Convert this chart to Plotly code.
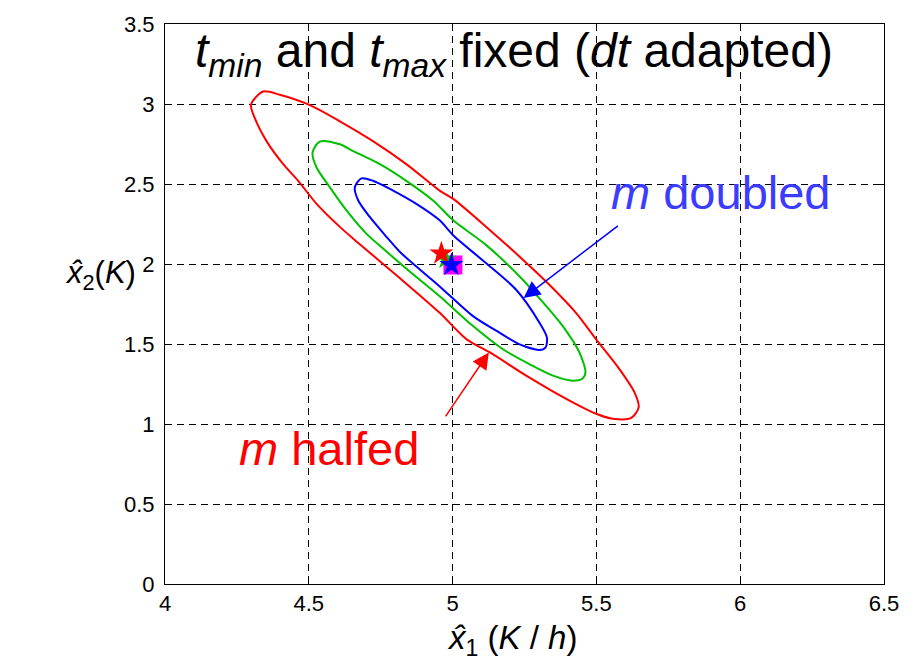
import plotly.graph_objects as go

# ---- data ----
red_x = [4.341, 4.399, 4.500, 4.608, 4.723, 4.839, 4.955, 5.002, 5.117, 5.233, 5.325, 5.429, 5.499,
         5.580, 5.632, 5.647, 5.621, 5.557, 5.499, 5.395, 5.256, 5.130, 5.049, 4.955, 4.813,
         4.671, 4.608, 4.527, 4.463, 4.411, 4.353, 4.312, 4.299, 4.341]
red_y = [3.078, 3.058, 2.996, 2.892, 2.768, 2.624, 2.459, 2.407, 2.232, 2.046, 1.891, 1.695, 1.529,
         1.343, 1.199, 1.106, 1.038, 1.033, 1.064, 1.157, 1.302, 1.447, 1.529, 1.695, 1.917,
         2.133, 2.232, 2.376, 2.520, 2.624, 2.768, 2.913, 2.996, 3.078]

green_x = [4.538, 4.608, 4.654, 4.747, 4.839, 4.932, 5.002, 5.117, 5.233, 5.291, 5.383, 5.441,
           5.462, 5.453, 5.418, 5.349, 5.267, 5.175, 5.071, 4.955, 4.854, 4.758, 4.700, 4.631,
           4.573, 4.527, 4.513, 4.538]
green_y = [2.765, 2.748, 2.706, 2.624, 2.520, 2.397, 2.273, 2.118, 1.922, 1.808, 1.612, 1.447,
           1.323, 1.286, 1.271, 1.302, 1.374, 1.467, 1.612, 1.798, 1.948, 2.097, 2.190, 2.335,
           2.480, 2.603, 2.696, 2.765]

blue_x = [4.683, 4.723, 4.793, 4.874, 4.955, 5.002, 5.117, 5.221, 5.302, 5.328, 5.323, 5.302,
          5.233, 5.163, 5.071, 4.955, 4.885, 4.816, 4.770, 4.712, 4.672, 4.660, 4.683]
blue_y = [2.535, 2.520, 2.459, 2.376, 2.273, 2.180, 2.004, 1.839, 1.633, 1.540, 1.478, 1.463,
          1.498, 1.571, 1.674, 1.860, 1.967, 2.077, 2.170, 2.294, 2.397, 2.480, 2.535]

# estimated points (markers)
square_pt = [5.001, 1.994]
green_star_pt = [4.976, 2.030]
red_star_pt = [4.961, 2.066]
blue_star_pt = [4.996, 1.994]

x_ticks = [4, 4.5, 5, 5.5, 6, 6.5]
x_tick_text = ["4", "4.5", "5", "5.5", "6", "6.5"]
y_ticks = [0, 0.5, 1, 1.5, 2, 2.5, 3, 3.5]
y_tick_text = ["0", "0.5", "1", "1.5", "2", "2.5", "3", "3.5"]

# arrows: (tail, head)
blue_arrow = [[5.580, 2.246], [5.247, 1.788]]
red_arrow = [[4.972, 1.038], [5.126, 1.447]]

FONT = "Liberation Sans, Arial, sans-serif"
RED = "#ff0000"
GREEN = "#00c000"
BLUE = "#0000ff"

fig = go.Figure()
for xs, ys, c in [(red_x, red_y, RED), (green_x, green_y, GREEN), (blue_x, blue_y, BLUE)]:
    fig.add_trace(go.Scatter(x=xs, y=ys, mode="lines", line=dict(color=c, width=2, shape="spline", smoothing=0.8),
                             hoverinfo="skip", showlegend=False))

fig.add_trace(go.Scatter(x=[square_pt[0]], y=[square_pt[1]], mode="markers",
                         marker=dict(symbol="square", size=19, color="#ff00ff", line=dict(width=0)), showlegend=False))
fig.add_trace(go.Scatter(x=[green_star_pt[0]], y=[green_star_pt[1]], mode="markers",
                         marker=dict(symbol="star", size=16, color=GREEN, line=dict(width=0)), showlegend=False))
fig.add_trace(go.Scatter(x=[red_star_pt[0]], y=[red_star_pt[1]], mode="markers",
                         marker=dict(symbol="star", size=18, color=RED, line=dict(width=0)), showlegend=False))
fig.add_trace(go.Scatter(x=[blue_star_pt[0]], y=[blue_star_pt[1]], mode="markers",
                         marker=dict(symbol="star", size=18, color=BLUE, line=dict(width=0)), showlegend=False))

axis_common = dict(showline=True, linecolor="black", linewidth=1, mirror="ticks", ticks="inside",
                   ticklen=7, tickcolor="black", showgrid=True, gridcolor="black", gridwidth=1,
                   griddash="7px,5px", zeroline=False, tickfont=dict(family=FONT, size=22, color="black"))

fig.update_layout(
    width=919, height=666,
    margin=dict(l=165, r=35, t=19, b=82),
    paper_bgcolor="white", plot_bgcolor="white",
    xaxis=dict(range=[4, 6.5], tickvals=x_ticks, ticktext=x_tick_text, **axis_common),
    yaxis=dict(range=[0, 3.5], tickvals=y_ticks, ticktext=y_tick_text, ticklabelstandoff=5, **axis_common),
    font=dict(family=FONT, color="black"),
)

annotations = [
    dict(text="<i>t</i><sub><i>min</i></sub> and <i>t</i><sub><i>max</i></sub> fixed (<i>dt</i> adapted)",
         xref="paper", yref="paper", x=0.486, y=0.947, showarrow=False,
         font=dict(family=FONT, size=48, color="black"), xanchor="center", yanchor="middle"),
    dict(text="<i>m</i> doubled", xref="x", yref="y", x=5.934, y=2.45, showarrow=False,
         font=dict(family=FONT, size=47, color="#3c3cff"), xanchor="center", yanchor="middle"),
    dict(text="<i>m</i> halfed", xref="x", yref="y", x=4.57, y=0.846, showarrow=False,
         font=dict(family=FONT, size=47, color=RED), xanchor="center", yanchor="middle"),
    dict(text="<i>x̂</i><sub>1</sub> (<i>K</i> / <i>h</i>)", xref="paper", yref="paper",
         x=0.483, y=-0.1, showarrow=False, font=dict(family=FONT, size=33, color="black"),
         xanchor="center", yanchor="middle"),
    dict(text="<i>x̂</i><sub>2</sub>(<i>K</i>)", xref="paper", yref="paper",
         x=-0.037, y=0.551, showarrow=False, font=dict(family=FONT, size=31, color="black"),
         xanchor="right", yanchor="middle"),
]
for (tail, head), c in [(blue_arrow, BLUE), (red_arrow, RED)]:
    annotations.append(dict(x=head[0], y=head[1], ax=tail[0], ay=tail[1], xref="x", yref="y",
                            axref="x", ayref="y", text="", showarrow=True, arrowhead=2,
                            arrowsize=2.2, arrowwidth=1.5, arrowcolor=c, standoff=0))
fig.update_layout(annotations=annotations)

fig.write_html("out.html")
